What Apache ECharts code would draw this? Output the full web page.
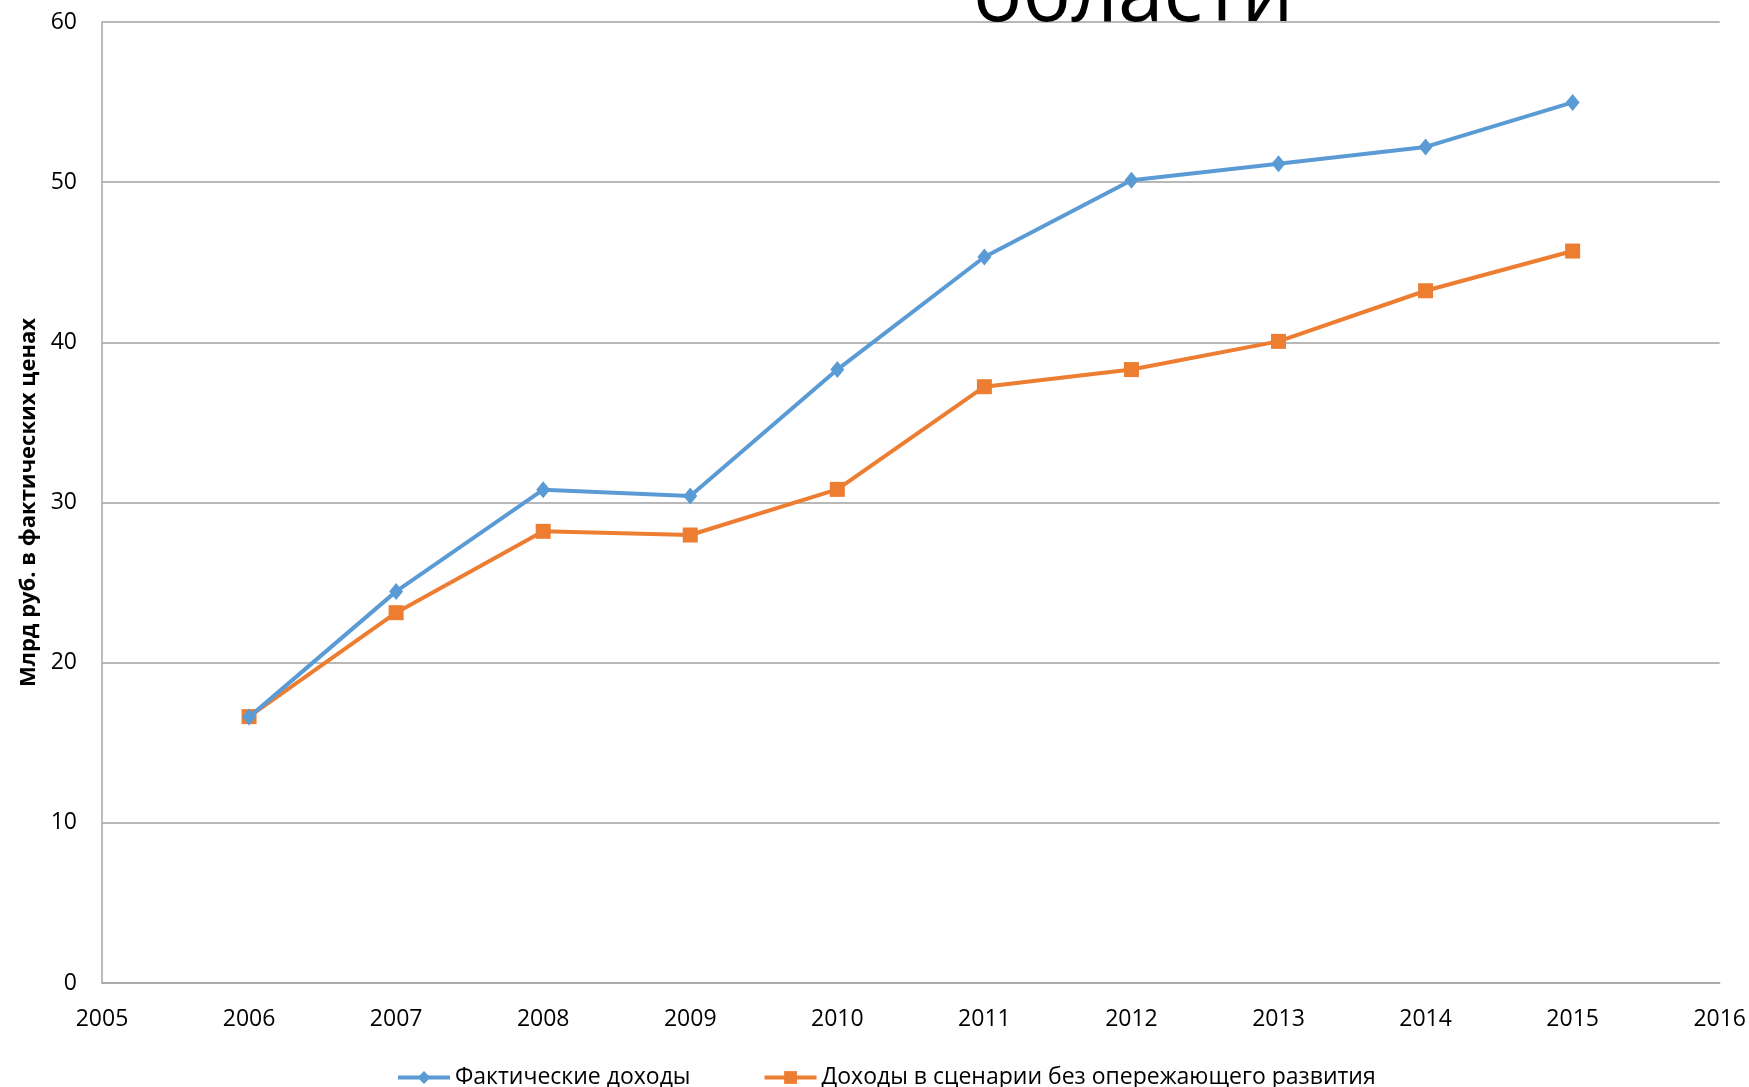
<!DOCTYPE html>
<html>
<head>
<meta charset="utf-8">
<script src="https://cdn.jsdelivr.net/npm/echarts@6/dist/echarts.min.js"></script>
<style>
html,body{margin:0;padding:0;background:#fff;}
#chart{width:1749px;height:1087px;}
</style>
</head>
<body>
<div id="chart"></div>
<script>
const years = [2006, 2007, 2008, 2009, 2010, 2011, 2012, 2013, 2014, 2015];
const actualIncome = [16.6, 24.45, 30.8, 30.4, 38.3, 45.33, 50.12, 51.15, 52.2, 54.98];
const baselineIncome = [16.63, 23.12, 28.2, 27.97, 30.82, 37.23, 38.3, 40.06, 43.22, 45.7];
const seriesNames = ['Фактические доходы', 'Доходы в сценарии без опережающего развития'];
const titleText = 'области';
const yAxisName = 'Млрд руб. в фактических ценах';

const FONT = '"Open Sans", "Liberation Sans", sans-serif';
const chart = echarts.init(document.getElementById('chart'), null, {renderer: 'canvas'});
const toPairs = (vals) => years.map((y, i) => [y, vals[i]]);

chart.setOption({
  animation: false,
  backgroundColor: '#fff',
  title: {
    text: titleText,
    left: 968,
    top: -48,
    textStyle: {fontFamily: FONT, fontSize: 82, fontWeight: 'normal', color: '#000'}
  },
  grid: {left: 102, right: 29, top: 22, bottom: 104, containLabel: false},
  legend: {
    left: 391,
    top: 1061,
    itemWidth: 52,
    itemHeight: 16,
    itemGap: 72,
    lineStyle: {width: 4},
    textStyle: {fontFamily: FONT, fontSize: 23, color: '#000'},
    data: seriesNames
  },
  xAxis: {
    type: 'value',
    min: 2005,
    max: 2016,
    interval: 1,
    axisLine: {show: true, lineStyle: {color: '#a6a6a6', width: 1.5}},
    axisTick: {show: false},
    splitLine: {show: false},
    axisLabel: {fontFamily: FONT, fontSize: 23, color: '#000', margin: 25, formatter: v => String(v)}
  },
  yAxis: {
    type: 'value',
    min: 0,
    max: 60,
    interval: 10,
    name: yAxisName,
    nameLocation: 'middle',
    nameGap: 62,
    nameTextStyle: {fontFamily: FONT, fontSize: 22, fontWeight: 'bold', color: '#000'},
    axisLine: {show: true, lineStyle: {color: '#a6a6a6', width: 1.5}},
    axisTick: {show: false},
    splitLine: {show: true, lineStyle: {color: '#a0a0a0', width: 1.5}},
    axisLabel: {fontFamily: FONT, fontSize: 23, color: '#000', margin: 25}
  },
  series: [
    {
      name: seriesNames[0],
      type: 'line',
      data: toPairs(actualIncome),
      symbol: 'diamond',
      symbolSize: [14, 17],
      lineStyle: {color: '#5b9bd5', width: 4},
      itemStyle: {color: '#5b9bd5'},
      z: 3
    },
    {
      name: seriesNames[1],
      type: 'line',
      data: toPairs(baselineIncome),
      symbol: 'rect',
      symbolSize: 15,
      lineStyle: {color: '#ed7d31', width: 4},
      itemStyle: {color: '#ed7d31'},
      z: 2
    }
  ]
});
</script>
</body>
</html>
